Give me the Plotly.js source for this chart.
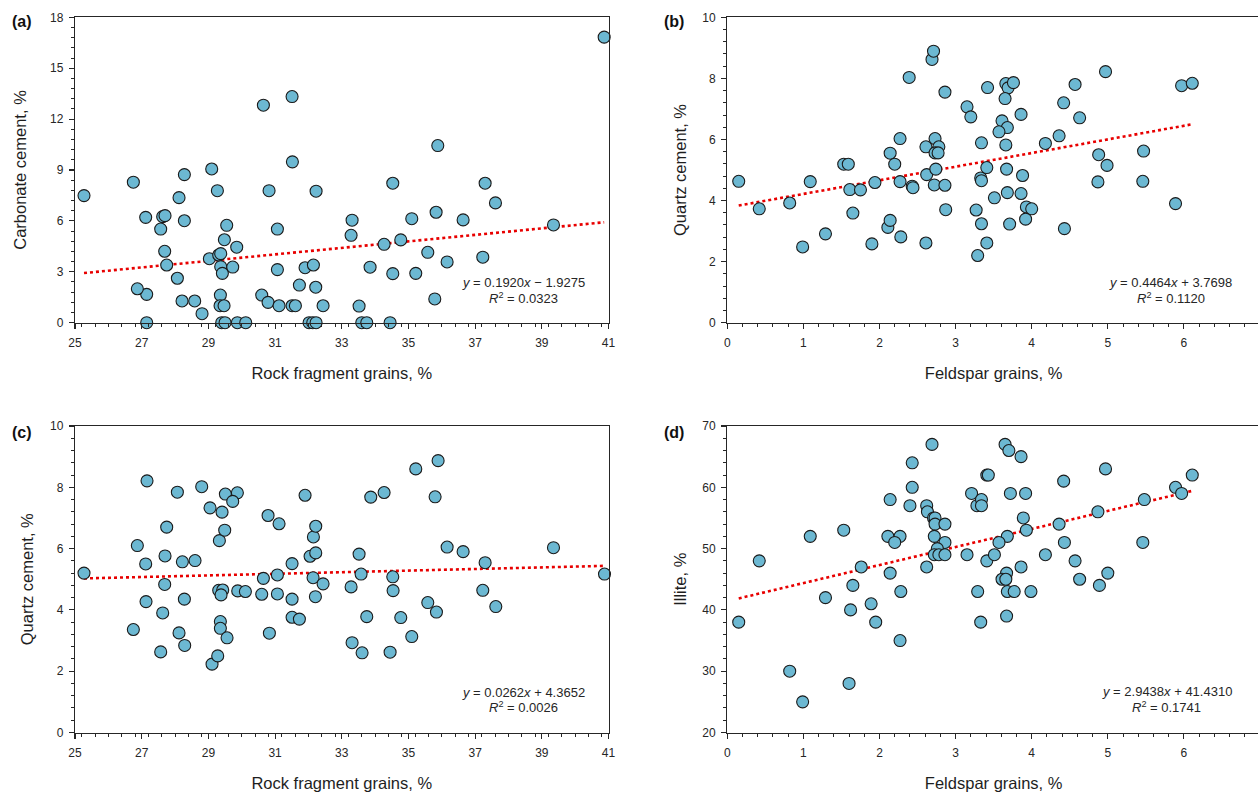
<!DOCTYPE html>
<html><head><meta charset="utf-8">
<script src="https://cdn.plot.ly/plotly-3.0.1.min.js"></script>
<style>html,body{margin:0;padding:0;overflow:hidden;background:#fff}#chart{width:1262px;height:795px}</style>
</head><body><div id="chart"></div>
<script>
// (a) Rock fragment grains vs Carbonate cement
const rockA = [25.27,26.75,27.12,27.15,27.15,26.87,27.57,27.63,27.70,27.69,27.75,28.07,28.21,28.28,28.28,28.12,28.59,28.81,29.10,29.27,29.03,29.31,29.37,29.37,29.42,29.36,29.35,29.47,29.40,29.50,29.48,29.55,29.85,29.73,29.87,30.12,30.65,30.82,31.07,31.07,30.60,30.79,31.12,31.51,31.52,31.51,31.61,31.73,31.90,32.15,32.22,32.23,32.44,32.02,32.13,32.23,40.87,35.88,34.53,37.30,37.61,33.31,33.28,35.10,35.83,36.64,39.35,34.27,34.77,35.58,36.16,37.23,33.85,34.53,35.22,35.79,33.52,33.60,33.75,34.45];
const carbA = [7.49,8.28,6.21,1.67,0,2.00,5.52,6.25,6.31,4.21,3.40,2.62,1.28,6.01,8.73,7.37,1.28,0.53,9.06,7.78,3.77,3.99,4.07,3.30,2.91,1.63,1.00,1.00,0,0,4.89,5.74,4.45,3.28,0,0,12.82,7.78,5.52,3.13,1.63,1.20,1.00,13.33,9.48,1.00,1.00,2.22,3.24,3.40,2.09,7.75,1.00,0,0,0,16.83,10.44,8.22,8.22,7.06,6.04,5.15,6.13,6.51,6.06,5.76,4.62,4.88,4.15,3.58,3.86,3.27,2.89,2.91,1.40,0.98,0,0,0];
// (b) Feldspar grains vs Quartz cement
const feldB = [0.15,0.42,0.82,0.99,1.09,1.29,1.53,1.59,1.61,1.65,1.75,1.90,1.94,2.14,2.20,2.11,2.14,2.27,2.27,2.28,2.39,2.43,2.44,2.61,2.61,2.62,2.69,2.71,2.73,2.78,2.73,2.77,2.74,2.72,2.86,2.86,2.87,3.15,3.20,3.34,3.27,3.29,3.34,3.33,3.34,3.41,3.42,3.51,3.41,3.66,3.69,3.76,3.65,3.86,3.61,3.68,3.57,3.66,3.67,3.88,3.68,3.86,3.93,4.00,3.92,3.71,4.43,4.18,4.36,4.42,4.57,4.63,4.97,4.88,4.99,4.87,5.47,5.46,5.89,5.97,6.11];
const quartzB = [4.63,3.73,3.92,2.48,4.62,2.91,5.19,5.19,4.36,3.59,4.35,2.58,4.59,5.55,5.19,3.12,3.35,6.03,4.62,2.81,8.03,4.47,4.42,2.61,5.76,4.85,8.62,8.89,6.03,5.76,5.56,5.56,5.03,4.51,4.50,7.55,3.70,7.07,6.74,5.89,3.69,2.20,3.24,4.74,4.65,5.08,7.70,4.09,2.61,7.83,7.69,7.86,7.34,6.82,6.61,6.39,6.25,5.82,5.03,4.82,4.26,4.23,3.79,3.73,3.39,3.23,3.08,5.87,6.12,7.20,7.80,6.71,8.22,5.50,5.15,4.61,5.62,4.63,3.90,7.76,7.84];
// (c) Rock fragment grains vs Quartz cement
const rockC = [25.27,27.16,26.87,27.12,27.13,26.75,27.57,27.63,27.69,27.70,27.75,28.07,28.12,28.22,28.28,28.29,28.60,28.80,29.05,29.11,29.28,29.33,29.49,29.41,29.51,29.87,29.73,29.31,29.43,29.38,29.36,29.36,29.56,29.88,30.11,30.60,30.65,30.79,30.83,31.07,31.07,31.12,31.51,31.51,31.51,31.73,31.90,32.05,32.22,32.15,32.22,32.14,32.21,32.44,35.89,35.22,33.87,34.27,35.80,36.16,36.64,39.35,33.52,37.30,40.88,33.58,34.53,33.28,34.54,37.23,37.62,35.58,35.84,33.75,34.77,35.10,33.31,33.61,34.45];
const quartzC = [5.20,8.21,6.10,5.50,4.27,3.36,2.63,3.90,4.83,5.76,6.70,7.84,3.25,5.57,4.35,2.84,5.61,8.02,7.33,2.23,2.50,6.26,6.60,7.19,7.78,7.82,7.54,4.64,4.65,4.49,3.62,3.40,3.09,4.62,4.60,4.51,5.03,7.08,3.24,5.14,4.52,6.81,5.51,4.35,3.76,3.70,7.74,5.75,5.86,6.38,6.73,5.05,4.43,4.85,8.87,8.60,7.68,7.83,7.69,6.05,5.90,6.03,5.82,5.54,5.17,5.17,5.08,4.75,4.63,4.64,4.11,4.24,3.93,3.78,3.75,3.13,2.93,2.60,2.62];
// (d) Feldspar grains vs Illite
const feldD = [0.15,0.42,0.82,0.99,1.09,1.29,1.53,1.60,1.62,1.65,1.76,1.89,1.95,2.11,2.27,2.14,2.20,2.14,2.28,2.27,2.43,2.43,2.40,2.62,2.63,2.71,2.73,2.73,2.86,2.72,2.86,2.76,2.72,2.78,2.86,2.62,2.69,3.15,3.21,3.28,3.34,3.34,3.29,3.33,3.41,3.41,3.43,3.65,3.70,3.86,4.97,4.42,3.72,3.92,6.11,5.89,5.97,5.48,4.87,3.89,4.36,3.93,3.68,3.57,4.43,5.46,3.51,4.18,4.57,3.86,3.67,5.00,3.61,3.66,4.63,4.89,3.68,3.77,3.99,3.67];
const illiteD = [38,48,30,25,52,42,53,28,40,44,47,41,38,52,52,58,51,46,43,35,64,60,57,57,56,55,55,54,54,52,51,50,49,49,49,47,67,49,59,57,58,57,43,38,48,62,62,67,66,65,63,61,59,59,62,60,59,58,56,55,54,53,52,51,51,51,49,49,48,47,46,46,45,45,45,44,43,43,43,39];

// Linear fits shown in the chart
const fitA = {slope: 0.1920, intercept: -1.9275, eq: '<i>y</i> = 0.1920<i>x</i> − 1.9275', r2: '<i>R</i><sup>2</sup> = 0.0323'};
const fitB = {slope: 0.4464, intercept: 3.7698, eq: '<i>y</i> = 0.4464<i>x</i> + 3.7698', r2: '<i>R</i><sup>2</sup> = 0.1120'};
const fitC = {slope: 0.0262, intercept: 4.3652, eq: '<i>y</i> = 0.0262<i>x</i> + 4.3652', r2: '<i>R</i><sup>2</sup> = 0.0026'};
const fitD = {slope: 2.9438, intercept: 41.4310, eq: '<i>y</i> = 2.9438<i>x</i> + 41.4310', r2: '<i>R</i><sup>2</sup> = 0.1741'};

const W = 1262, H = 795;
const FONT = 'Liberation Sans, Arial, Helvetica, sans-serif';
const INK = '#262626';
const px = v => v / W, py = v => 1 - v / H;

const markerStyle = {size: 12, color: 'rgb(108,184,210)', line: {color: '#1a1a1a', width: 1.1}};
function pts(x, y, xa, ya) {
  return {type: 'scatter', mode: 'markers', x: x, y: y, xaxis: xa, yaxis: ya,
    marker: markerStyle, cliponaxis: false, showlegend: false, hoverinfo: 'x+y'};
}
function fit(x, f, xa, ya) {
  const x0 = Math.min(...x), x1 = Math.max(...x);
  return {type: 'scatter', mode: 'lines', x: [x0, x1],
    y: [f.slope * x0 + f.intercept, f.slope * x1 + f.intercept],
    xaxis: xa, yaxis: ya, line: {color: 'rgb(232,0,0)', width: 2.6, dash: 'dot'},
    showlegend: false, hoverinfo: 'skip'};
}

const data = [
  fit(rockA, fitA, 'x', 'y'), pts(rockA, carbA, 'x', 'y'),
  fit(feldB, fitB, 'x2', 'y2'), pts(feldB, quartzB, 'x2', 'y2'),
  fit(rockC, fitC, 'x3', 'y3'), pts(rockC, quartzC, 'x3', 'y3'),
  fit(feldD, fitD, 'x4', 'y4'), pts(feldD, illiteD, 'x4', 'y4')
];

function axis(o) {
  return Object.assign({
    showline: true, linecolor: INK, linewidth: 1.2, mirror: true,
    ticks: 'outside', ticklen: 5, tickwidth: 1.1, tickcolor: INK,
    showgrid: false, zeroline: false, autorange: false, fixedrange: true,
    tickfont: {family: FONT, size: 12, color: INK}
  }, o);
}
function minor(d) { return {dtick: d, ticks: 'outside', ticklen: 3, tickwidth: 1, tickcolor: INK, showgrid: false}; }
const titleFont = {family: FONT, size: 16.5, color: '#1e1e1e'};
const xDomL = [px(75), px(608.5)], xDomR = [px(727.3), px(1260)];
const yDomT = [py(322.7), py(17.3)], yDomB = [py(732.5), py(426)];

const layout = {
  width: W, height: H, margin: {l: 0, r: 0, t: 0, b: 0},
  paper_bgcolor: '#fff', plot_bgcolor: '#fff', showlegend: false,
  font: {family: FONT, color: INK},
  xaxis: axis({domain: xDomL, anchor: 'y', range: [25, 41], tick0: 25, dtick: 2, minor: minor(0.4),
    ticklabelstandoff: 4, title: {text: 'Rock fragment grains, %', font: titleFont, standoff: 18}}),
  yaxis: axis({domain: yDomT, anchor: 'x', range: [0, 18], tick0: 0, dtick: 3, minor: minor(0.6),
    ticklabelstandoff: 3, title: {text: 'Carbonate cement, %', font: titleFont, standoff: 19}}),
  xaxis2: axis({domain: xDomR, anchor: 'y2', range: [0, 7], tick0: 0, dtick: 1, minor: minor(0.2),
    ticklabelstandoff: 4, title: {text: 'Feldspar grains, %', font: titleFont, standoff: 18}}),
  yaxis2: axis({domain: yDomT, anchor: 'x2', range: [0, 10], tick0: 0, dtick: 2, minor: minor(0.4),
    ticklabelstandoff: 3, title: {text: 'Quartz cement, %', font: titleFont, standoff: 11}}),
  xaxis3: axis({domain: xDomL, anchor: 'y3', range: [25, 41], tick0: 25, dtick: 2, minor: minor(0.4),
    ticklabelstandoff: 4, title: {text: 'Rock fragment grains, %', font: titleFont, standoff: 18}}),
  yaxis3: axis({domain: yDomB, anchor: 'x3', range: [0, 10], tick0: 0, dtick: 2, minor: minor(0.4),
    ticklabelstandoff: 3, title: {text: 'Quartz cement, %', font: titleFont, standoff: 12}}),
  xaxis4: axis({domain: xDomR, anchor: 'y4', range: [0, 7], tick0: 0, dtick: 1, minor: minor(0.2),
    ticklabelstandoff: 4, title: {text: 'Feldspar grains, %', font: titleFont, standoff: 18}}),
  yaxis4: axis({domain: yDomB, anchor: 'x4', range: [20, 70], tick0: 20, dtick: 10, minor: minor(2),
    ticklabelstandoff: 3, title: {text: 'Illite, %', font: titleFont, standoff: 11}}),
  annotations: []
};

const labelFont = {family: FONT, size: 16, color: '#111'};
[['(a)', 10, 22], ['(b)', 662, 22], ['(c)', 10, 432], ['(d)', 662, 432]].forEach(([t, x, y]) => {
  layout.annotations.push({text: '<b>' + t + '</b>', xref: 'paper', yref: 'paper', x: px(x), y: py(y),
    xanchor: 'left', yanchor: 'middle', showarrow: false, font: labelFont});
});
const eqFont = {family: FONT, size: 13, color: '#262626'};
[[fitA, 523, 282.7, 298.3], [fitB, 1170.5, 282.7, 298.3], [fitC, 523.3, 692, 707.3], [fitD, 1166.7, 691.7, 707.3]].forEach(([f, x, y1, y2]) => {
  layout.annotations.push({text: f.eq, xref: 'paper', yref: 'paper', x: px(x), y: py(y1), xanchor: 'center', yanchor: 'middle', showarrow: false, font: eqFont});
  layout.annotations.push({text: f.r2, xref: 'paper', yref: 'paper', x: px(x), y: py(y2), xanchor: 'center', yanchor: 'middle', showarrow: false, font: eqFont});
});

Plotly.newPlot('chart', data, layout, {displayModeBar: false, staticPlot: true});
</script>
</body></html>
